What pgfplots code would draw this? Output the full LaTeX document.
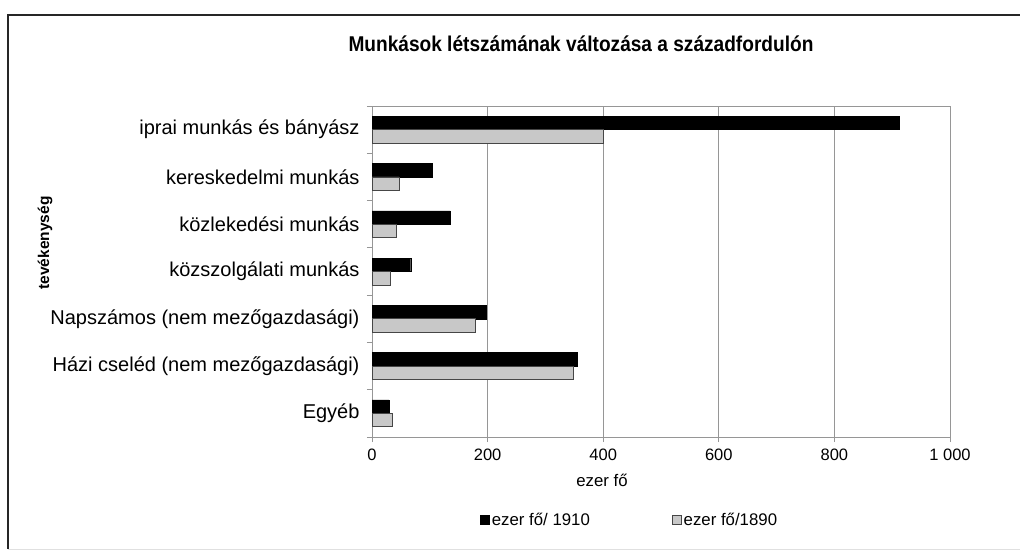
\documentclass[border=0pt]{standalone}
\usepackage{fontspec}
\setmainfont{Liberation Sans}
\usepackage{pgfplots}
\pgfplotsset{compat=1.18}
\definecolor{bargray}{RGB}{200,200,200}
\definecolor{baredge}{RGB}{70,70,70}
\definecolor{gridgray}{RGB}{150,150,150}
\begin{document}
\begin{tikzpicture}
\path[use as bounding box] (0pt,0pt) rectangle (1020pt,-551pt);
\fill[white] (0pt,0pt) rectangle (1020pt,-551pt);
\draw[line width=2pt, black!85] (1021pt,-15pt) -- (8pt,-15pt) -- (8pt,-549pt);
\draw[line width=1pt, black!12] (8pt,-549pt) -- (1021pt,-549pt);
\node[font=\fontsize{19.1}{23}\selectfont\bfseries] at (581pt,-44pt) {\scalebox{1}[1.12]{Munkások létszámának változása a századfordulón}};
\node[font=\fontsize{15.5}{18}\selectfont\bfseries, rotate=90] at (45pt,-243pt) {tevékenység};
\node[font=\fontsize{16.8}{20}\selectfont] at (602pt,-480pt) {ezer fő};
\begin{axis}[
  at={(372pt,-437pt)}, anchor=south west,
  scale only axis, width=578pt, height=331pt,
  xbar, bar width=13.4pt,
  xmin=0, xmax=1000, ymin=-0.5, ymax=6.5,
  axis line style={draw=gridgray, line width=0.8pt},
  xmajorgrids, grid style={draw=gridgray, line width=0.8pt},
  tick align=outside, tickpos=left, major tick length=5pt,
  tick style={draw=gridgray, line width=0.8pt},
  xtick={0,200,400,600,800,1000},
  xticklabels={0,200,400,600,800,1 000},
  xticklabel style={font=\fontsize{16.5}{19}\selectfont, yshift=-3pt},
  ytick={-0.5,0.5,...,6.5}, yticklabels={},
  extra y ticks={0,1,2,3,4,5,6},
  extra y tick labels={Egyéb,Házi cseléd (nem mezőgazdasági),Napszámos (nem mezőgazdasági),közszolgálati munkás,közlekedési munkás,kereskedelmi munkás,iprai munkás és bányász},
  extra y tick style={tick style={draw=none}, yticklabel style={font=\fontsize{20}{24}\selectfont, xshift=-4pt}},
  legend style={draw=none, at={(0.446,-0.251)}, anchor=center, legend columns=2,
    font=\fontsize{16.8}{20}\selectfont, inner sep=0pt,
    /tikz/every even column/.append style={column sep=80pt}},
  legend image code/.code={\draw[#1] (0pt,-4.5pt) rectangle (9pt,4.5pt);},
]
\addplot[fill=black, draw=black, bar shift=6.7pt] coordinates {
 (29,0) (355,1) (198,2) (67,3) (135,4) (104,5) (912,6)};
\addlegendentry{ezer fő/ 1910}
\addplot[fill=bargray, draw=baredge, line width=0.8pt, bar shift=-6.7pt] coordinates {
 (35,0) (349,1) (179,2) (32,3) (42,4) (47,5) (400,6)};
\addlegendentry{ezer fő/1890}
\end{axis}
\end{tikzpicture}
\end{document}
